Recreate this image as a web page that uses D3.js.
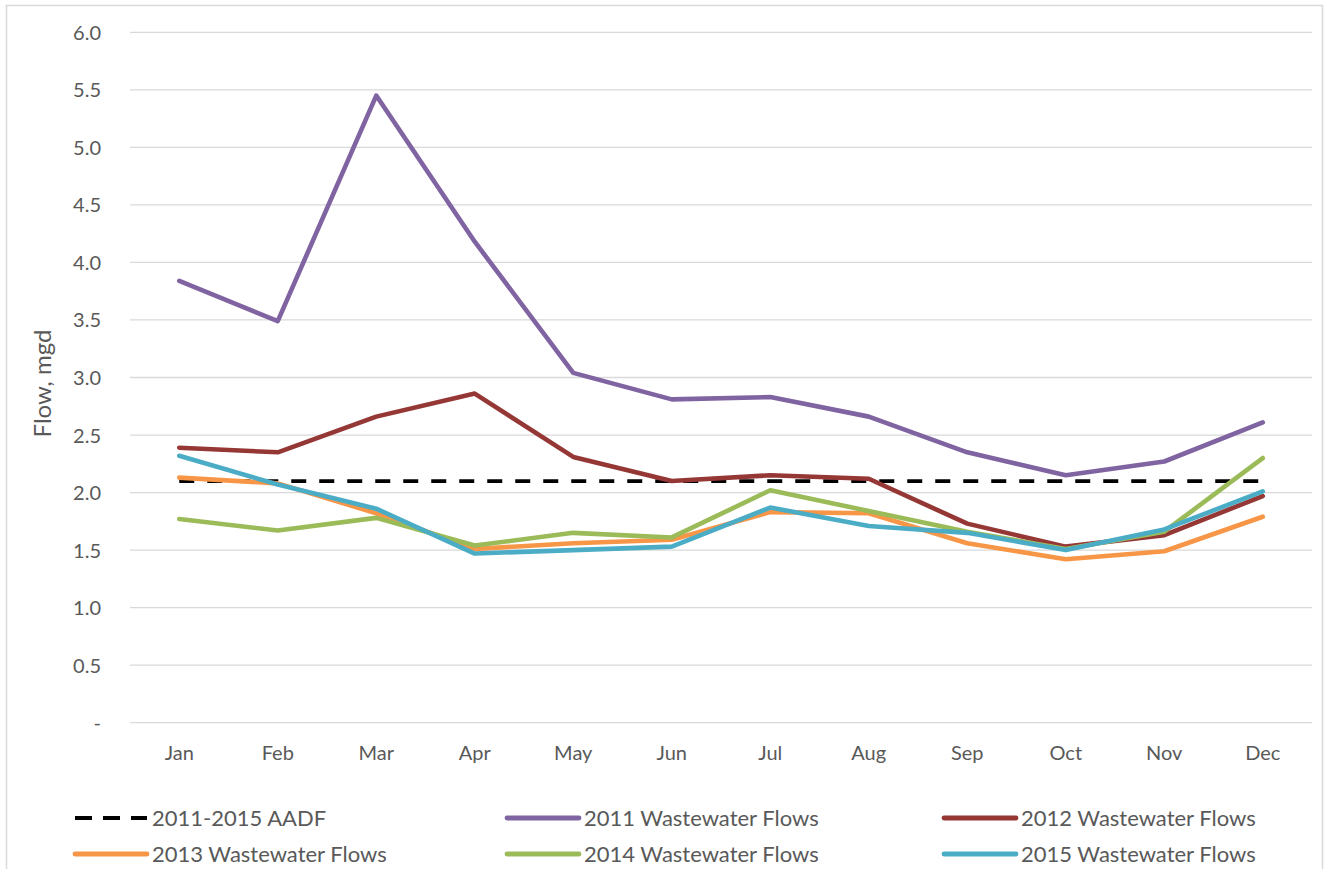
<!DOCTYPE html>
<html><head><meta charset="utf-8">
<script src="https://cdn.jsdelivr.net/npm/d3@7"></script>
<style>body{margin:0;background:#fff;} text{font-family:Lato,"Open Sans",sans-serif;fill:#595959;}</style>
</head><body>
<svg id="c" width="1325" height="869"></svg>
<script>
const months = ["Jan","Feb","Mar","Apr","May","Jun","Jul","Aug","Sep","Oct","Nov","Dec"];
const yTicks = [0,0.5,1.0,1.5,2.0,2.5,3.0,3.5,4.0,4.5,5.0,5.5,6.0];
const aadf = [2.10,2.10,2.10,2.10,2.10,2.10,2.10,2.10,2.10,2.10,2.10,2.10];
const flows2011 = [3.84,3.49,5.45,4.18,3.04,2.81,2.83,2.66,2.35,2.15,2.27,2.61];
const flows2012 = [2.39,2.35,2.66,2.86,2.31,2.10,2.15,2.12,1.73,1.53,1.63,1.97];
const flows2013 = [2.13,2.08,1.82,1.51,1.56,1.59,1.83,1.82,1.56,1.42,1.49,1.79];
const flows2014 = [1.77,1.67,1.78,1.54,1.65,1.61,2.02,1.84,1.66,1.51,1.66,2.30];
const flows2015 = [2.32,2.07,1.86,1.47,1.50,1.53,1.87,1.71,1.65,1.50,1.68,2.01];
const seriesNames = ["2011-2015 AADF","2011 Wastewater Flows","2012 Wastewater Flows","2013 Wastewater Flows","2014 Wastewater Flows","2015 Wastewater Flows"];

const colors = ["#000000","#8064A2","#953735","#F79646","#9BBB59","#4BACC6"];
const allSeries = [aadf,flows2011,flows2012,flows2013,flows2014,flows2015];

const svg = d3.select("#c");
const L=130, R=1312, T=32.3, B=722.7;
svg.append("rect").attr("x",6.5).attr("y",5.5).attr("width",1316).attr("height",900)
  .attr("fill","none").attr("stroke","#d9d9d9").attr("stroke-width",1.5);

const x = d3.scaleBand().domain(months).range([L,R]);
const y = d3.scaleLinear().domain([0,6]).range([B,T]);

svg.append("g").selectAll("line").data(yTicks).join("line")
  .attr("x1",L).attr("x2",R).attr("y1",d=>y(d)).attr("y2",d=>y(d))
  .attr("stroke","#d9d9d9").attr("stroke-width",1.3);

const yAxis = d3.axisLeft(y).tickValues(yTicks).tickSize(0).tickPadding(0)
  .tickFormat(d=> d===0 ? "-" : d3.format(".1f")(d));
const gy = svg.append("g").attr("transform",`translate(101,0)`).call(yAxis);
gy.select(".domain").remove();
gy.selectAll("text").style("font-size","20px").attr("fill","#595959").attr("dy","0.35em");

const xAxis = d3.axisBottom(x).tickSize(0).tickPadding(0);
const gx = svg.append("g").attr("transform",`translate(0,${B+23})`).call(xAxis);
gx.select(".domain").remove();
gx.selectAll("text").style("font-size","20px").attr("fill","#595959").attr("dy","0.71em");

svg.append("text").attr("transform",`translate(51,${(T+B)/2 + 6}) rotate(-90)`)
  .attr("text-anchor","middle").style("font-size","24px").text("Flow, mgd");

const line = d3.line().x((d,i)=>x(months[i])+x.bandwidth()/2).y(d=>y(d));

allSeries.forEach((s,k)=>{
  svg.append("path").datum(s).attr("d",line).attr("fill","none")
    .attr("stroke",colors[k]).attr("stroke-width", k===0?3.8:4.6)
    .attr("stroke-linecap", k===0?"butt":"round").attr("stroke-linejoin","round")
    .attr("stroke-dasharray", k===0?"15,13":null);
});

const legX=[75,507,944], legY=[818,854];
seriesNames.forEach((n,k)=>{
  const lx=legX[k%3], ly=legY[Math.floor(k/3)];
  const g=svg.append("g");
  g.append("line").attr("x1",lx).attr("x2",lx+72).attr("y1",ly).attr("y2",ly)
    .attr("stroke",colors[k]).attr("stroke-width",k===0?4:4.8)
    .attr("stroke-linecap",k===0?"butt":"round")
    .attr("stroke-dasharray",k===0?"17,11":null);
  g.append("text").attr("x",lx+77).attr("y",ly).attr("dy","0.35em")
    .style("font-size","22px").text(n);
});
</script>
</body></html>
